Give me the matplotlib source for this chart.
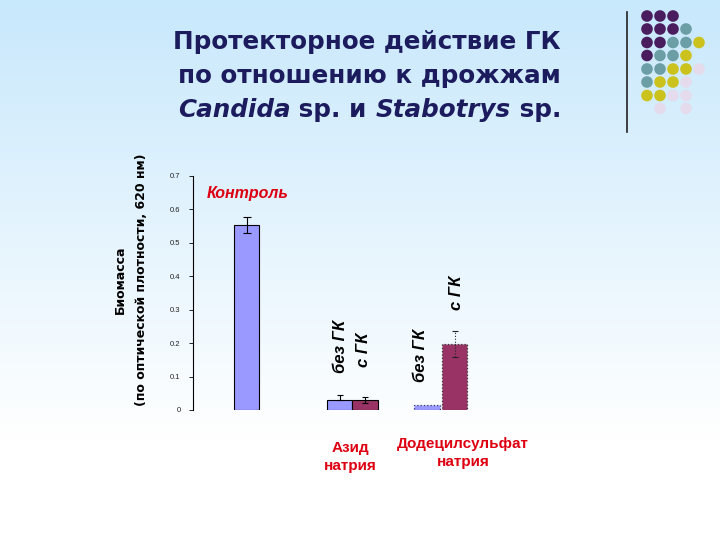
import matplotlib
matplotlib.use('Agg')
import matplotlib.pyplot as plt
import numpy as np
from matplotlib.offsetbox import TextArea, HPacker, VPacker, AnnotationBbox

# ---------------- data ----------------
control_label = 'Контроль'
group_labels = ['Азид\nнатрия', 'Додецилсульфат\nнатрия']
control_value = [0.553]
control_err = [0.024]
without_gk = [0.030, 0.015]      # без ГК: azide, SDS
without_err = [0.014, 0.0]
with_gk = [0.030, 0.198]         # с ГК: azide, SDS
with_err = [0.008, 0.038]
yticks = [0, 0.1, 0.2, 0.3, 0.4, 0.5, 0.6, 0.7]
ytick_labels = ['0', '0.1', '0.2', '0.3', '0.4', '0.5', '0.6', '0.7']
bar_labels = ['без ГК', 'с ГК']

# decoration colour grid (top-right)
dot_rows = ['PPP..', 'PPPT.', 'PPTTY', 'PTTY.', 'TTYYL', 'TYYL.', 'YYLL.', '.L.L.']
dot_colors = {'P': '#4a1d5e', 'T': '#6c9ea6', 'Y': '#cbc21e', 'L': '#e4dbec'}

# ---------------- layout ----------------
W, H = 720, 540
fig = plt.figure(figsize=(7.2, 5.4), dpi=100)

# background gradient + decoration
bg = fig.add_axes([0, 0, 1, 1], zorder=-10)
yy = np.linspace(0, H, 300)
t = np.clip(yy / 440.0, 0, 1)[:, None]
top = np.array([200, 232, 252]) / 255.0
white = np.array([1.0, 1.0, 1.0])
grad = top * (1 - t) + white * t
bg.imshow(grad[:, None, :], extent=[0, W, H, 0], aspect='auto')
bg.set_xlim(0, W)
bg.set_ylim(H, 0)
bg.axis('off')
bg.plot([627, 627], [12, 132], color='#222222', lw=1.2)
col_x = [647, 660, 673, 686, 699]
row_y = [16, 29, 42.5, 55.5, 69, 82, 95.5, 108.5]
for r, row in enumerate(dot_rows):
    for c, ch in enumerate(row):
        if ch != '.':
            bg.scatter(col_x[c], row_y[r], s=70, color=dot_colors[ch], edgecolors='none')

# main axes
ax_left, ax_right, ax_bottom, ax_top = 193, 500, 410, 176
ax = fig.add_axes([ax_left / W, 1 - ax_bottom / H, (ax_right - ax_left) / W, (ax_bottom - ax_top) / H])
ax.set_facecolor('none')
px = 26.5  # pixels per x unit (= bar width)
ax.set_xlim(0, (ax_right - ax_left) / px)
ax.set_ylim(0, 0.7)

bw = 0.97
x_control = [2.02]
x_without = [5.53, 8.83]
x_with = [6.49, 9.87]
blue = '#9999ff'
red = '#993366'

ax.bar(x_control, control_value, width=bw, color=blue, edgecolor='black', linewidth=0.8)
ax.errorbar(x_control, control_value, yerr=control_err, fmt='none', ecolor='black', elinewidth=0.8, capsize=3, capthick=0.8)

# azide (solid edges)
ax.bar(x_without[0], without_gk[0], width=bw, color=blue, edgecolor='black', linewidth=0.8)
ax.bar(x_with[0], with_gk[0], width=bw, color=red, edgecolor='black', linewidth=0.8)
ax.errorbar([x_without[0]], [without_gk[0]], yerr=[[0], [without_err[0]]], fmt='none', ecolor='black', elinewidth=0.8, capsize=2.5, capthick=0.8)
ax.errorbar([x_with[0]], [with_gk[0]], yerr=[with_err[0]], fmt='none', ecolor='black', elinewidth=0.8, capsize=2.5, capthick=0.8)

# SDS (dotted edges)
ax.bar(x_without[1], without_gk[1], width=bw, color=blue, edgecolor='#333366', linewidth=0.9, linestyle=':')
ax.bar(x_with[1], with_gk[1], width=bw, color=red, edgecolor='#333333', linewidth=0.9, linestyle=':')
eb = ax.errorbar([x_with[1]], [with_gk[1]], yerr=[with_err[1]], fmt='none', ecolor='#222222', elinewidth=0.8, capsize=2.5, capthick=0.8)
for lc in eb[2]:
    lc.set_linestyle(':')

ax.set_yticks(yticks)
ax.set_yticklabels(ytick_labels)
ax.set_xticks([])
for s in ['top', 'right', 'bottom']:
    ax.spines[s].set_visible(False)
ax.spines['left'].set_linewidth(0.8)
ax.tick_params(axis='y', length=3, width=0.6, labelsize=5.5, labelcolor='#222222', pad=6)
for lab in ax.get_yticklabels():
    lab.set_fontfamily('Liberation Sans')

# texts in the plot
ax.text(2.08, 0.647, control_label, color='#dd0011', fontsize=11.5, fontstyle='italic', fontweight='bold',
        ha='center', va='center', family='Liberation Sans')
lab_pos = [(5.55, 0.189, bar_labels[0]), (6.42, 0.180, bar_labels[1]),
           (8.57, 0.162, bar_labels[0]), (9.96, 0.350, bar_labels[1])]
for x, y, s in lab_pos:
    ax.text(x, y, s, rotation=90, ha='center', va='center', fontsize=12, fontstyle='italic',
            fontweight='bold', color='black', family='Liberation Sans')

# category labels
fig.text(350 / W, 1 - 457 / H, group_labels[0], color='#dd0011', fontsize=11, fontweight='bold',
         ha='center', va='center', linespacing=1.3, family='Liberation Sans')
fig.text(463 / W, 1 - 453 / H, group_labels[1], color='#dd0011', fontsize=11, fontweight='bold',
         ha='center', va='center', linespacing=1.3, family='Liberation Sans')

# y label
fig.text(131 / W, 1 - 280 / H, 'Биомасса\n(по оптической плотности, 620 нм)', rotation=90,
         ha='center', va='center', fontsize=9, fontweight='bold', color='black',
         linespacing=1.75, family='DejaVu Sans')

# title
tp = dict(fontsize=17.7, fontweight='bold', color='#1b1b5e', family='DejaVu Sans')
tpi = dict(tp, fontstyle='italic')
line1 = TextArea('Протекторное действие ГК', textprops=tp)
line2 = TextArea('по отношению к дрожжам', textprops=tp)
line3 = HPacker(children=[TextArea('Candida', textprops=tpi), TextArea(' sp. и ', textprops=tp),
                          TextArea('Stabotrys', textprops=tpi), TextArea(' sp.', textprops=tp)],
                align='baseline', pad=0, sep=0)
title = VPacker(children=[line1, line2, line3], align='right', pad=0, sep=7)
ab = AnnotationBbox(title, (561 / W, 1 - 76 / H), xycoords='figure fraction', box_alignment=(1, 0.5),
                    frameon=False, pad=0)
fig.add_artist(ab)

fig.savefig('out.png', dpi=100)
